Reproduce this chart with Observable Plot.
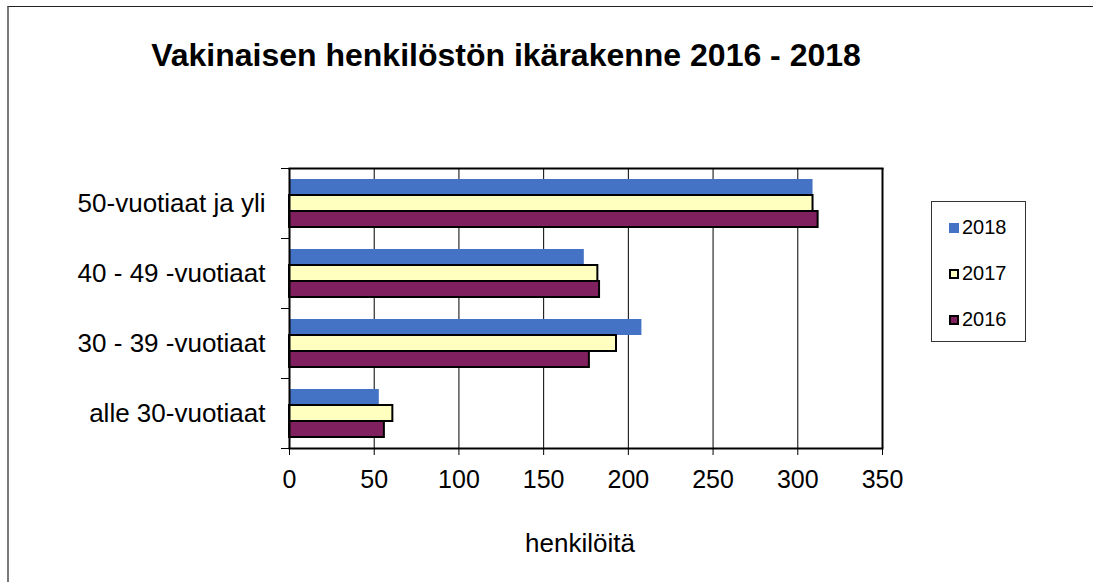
<!DOCTYPE html>
<html>
<head>
<meta charset="utf-8">
<script src="https://cdn.jsdelivr.net/npm/d3@7"></script>
<script src="https://cdn.jsdelivr.net/npm/@observablehq/plot@0.6"></script>
<style>
  body { margin: 0; background: #fff; }
  #wrap { position: relative; width: 1093px; height: 582px; overflow: hidden; background: #fff;
          font-family: "Liberation Sans", Arial, sans-serif; color: #000; }
  #border { position: absolute; left: 7px; top: 6px; width: 1200px; height: 700px;
            border-top: 1px solid #222; border-left: 2px solid #7a7a7a; }
  #title { position: absolute; left: 0; width: 1012px; top: 39px; line-height: 32px;
           text-align: center; font-weight: bold; font-size: 32px; white-space: nowrap; }
  #chart { position: absolute; left: 0; top: 0; }
  #xlabel { position: absolute; left: 480px; width: 200px; top: 530px; line-height: 26px;
            text-align: center; font-size: 26px; }
  #legend { position: absolute; left: 931px; top: 201px; width: 95px; height: 141px;
            border: 1px solid #333; box-sizing: border-box; }
  .item { position: absolute; left: 17px; height: 20px; line-height: 20px; font-size: 20px; }
  .sw { display: inline-block; width: 10px; height: 10px; box-sizing: border-box; margin-right: 3px;
        vertical-align: 1px; }
</style>
</head>
<body>
<div id="wrap">
  <div id="border"></div>
  <div id="title"></div>
  <div id="chart"></div>
  <div id="xlabel"></div>
  <div id="legend"></div>
</div>
<script>
const titleText = "Vakinaisen henkilöstön ikärakenne 2016 - 2018";
const xLabel = "henkilöitä";
const categories = ["50-vuotiaat ja yli", "40 - 49 -vuotiaat", "30 - 39 -vuotiaat", "alle 30-vuotiaat"];
const years = ["2018", "2017", "2016"];
const v2018 = [309, 174, 208, 53];
const v2017 = [309, 182, 193, 61];
const v2016 = [312, 183, 177, 56];
const colors = ["#4472C4", "#FFFFC0", "#80205E"];
const xTicks = [0, 50, 100, 150, 200, 250, 300, 350];
const gridTicks = [50, 100, 150, 200, 250, 300];

const seriesValues = {"2018": v2018, "2017": v2017, "2016": v2016};
const data = categories.flatMap((c, i) => years.map(y => ({category: c, year: y, value: seriesValues[y][i]})));

document.getElementById("title").textContent = titleText;
document.getElementById("xlabel").textContent = xLabel;

const chart = Plot.plot({
  width: 1093,
  height: 582,
  marginLeft: 289,
  marginRight: 211,
  marginTop: 168,
  marginBottom: 134,
  style: {fontFamily: "'Liberation Sans', Arial, sans-serif", color: "#000", background: "transparent", overflow: "visible"},
  x: {domain: [0, 350], axis: null},
  y: {domain: years, paddingOuter: 0.6875, paddingInner: 0, axis: null},
  fy: {domain: categories, padding: 0, axis: null},
  color: {domain: years, range: colors},
  marks: [
    Plot.ruleX(gridTicks, {stroke: "#000", strokeWidth: 1}),
    Plot.barX(data.filter(d => d.year === "2018"), {fy: "category", y: "year", x: "value", fill: "year"}),
    Plot.barX(data.filter(d => d.year !== "2018"), {fy: "category", y: "year", x: "value", fill: "year", stroke: "#000", strokeWidth: 2}),
    Plot.ruleX([0, 350], {stroke: "#000", strokeWidth: 2}),
    Plot.frame({anchor: "top", facetAnchor: "top", stroke: "#000", strokeWidth: 2}),
    Plot.frame({anchor: "bottom", facetAnchor: "bottom", stroke: "#000", strokeWidth: 2}),
    Plot.axisX({ticks: xTicks, tickSize: 7, tickPadding: 15, fontSize: 25, label: null, tickFormat: d => String(d)}),
    Plot.axisFy({anchor: "left", tickSize: 0, tickPadding: 24, fontSize: 26, label: null}),
    Plot.axisFy({anchor: "left", tickSize: 8, text: null, label: null, dy: -35}),
    Plot.axisFy({anchor: "left", ticks: [categories[categories.length - 1]], tickSize: 8, text: null, label: null, dy: 35})
  ]
});
document.getElementById("chart").appendChild(chart);

const legend = document.getElementById("legend");
const legendTops = [15, 61, 107];
years.forEach((y, i) => {
  const item = document.createElement("div");
  item.className = "item";
  item.style.top = legendTops[i] + "px";
  const sw = document.createElement("span");
  sw.className = "sw";
  sw.style.background = colors[i];
  if (y !== "2018") sw.style.border = "2px solid #000";
  item.appendChild(sw);
  item.appendChild(document.createTextNode(y));
  legend.appendChild(item);
});
</script>
</body>
</html>
